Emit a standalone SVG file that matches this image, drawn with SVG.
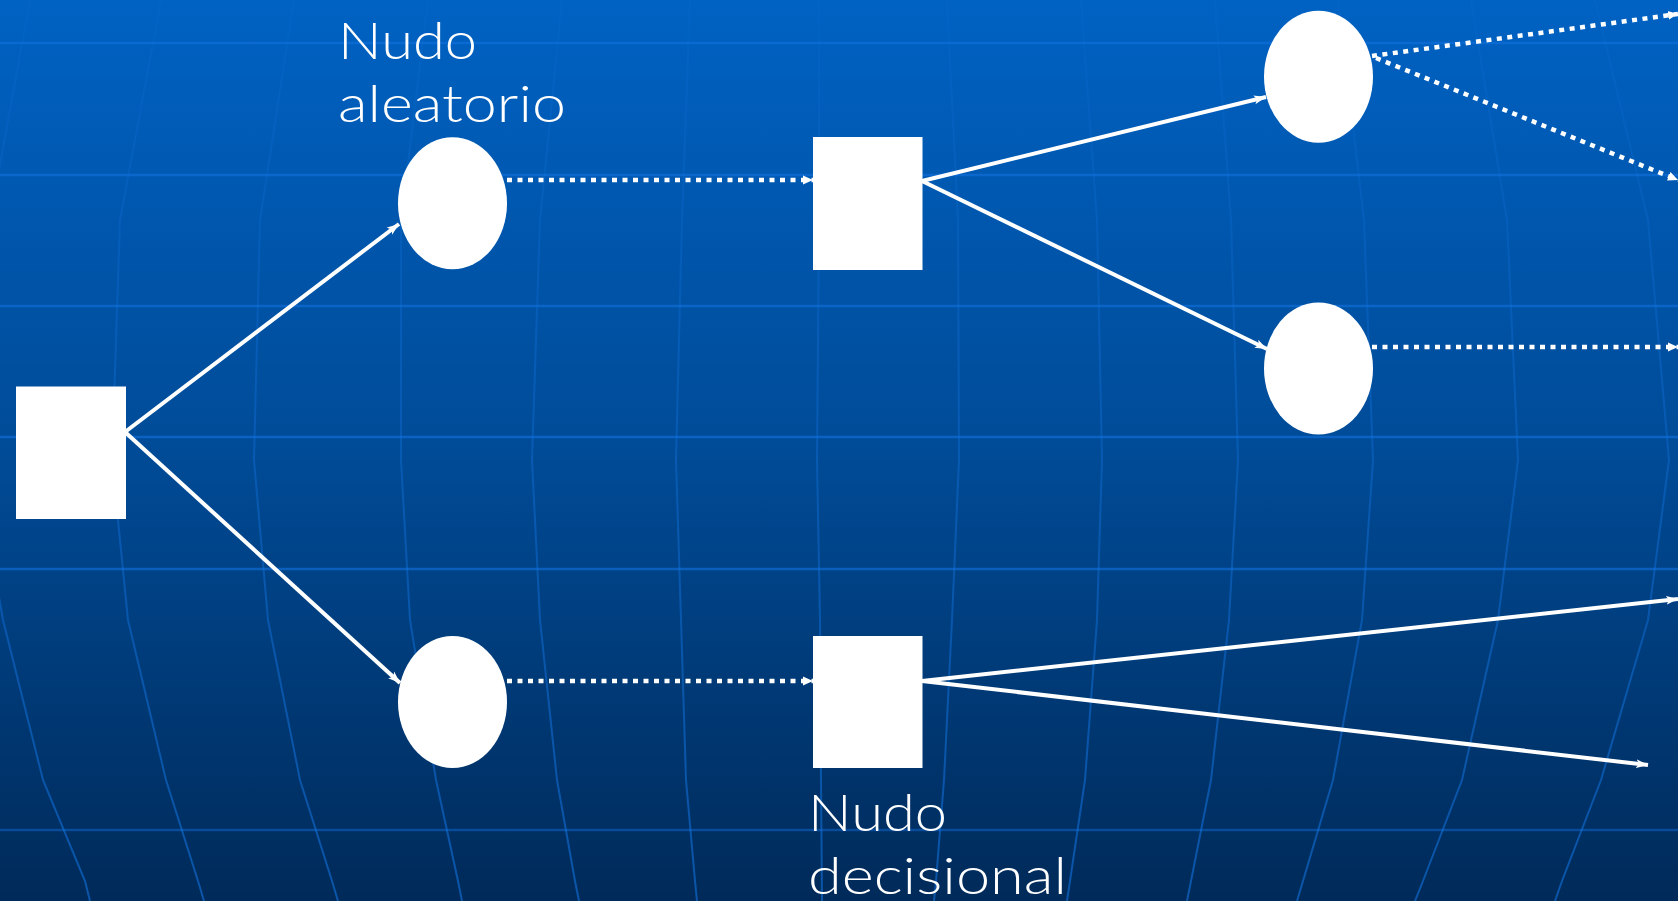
<svg xmlns="http://www.w3.org/2000/svg" width="1678" height="901" viewBox="0 0 1678 901">
<defs>
<linearGradient id="bg" x1="0" y1="0" x2="0" y2="1">
<stop offset="0" stop-color="#0062C3"/>
<stop offset="0.5" stop-color="#004B97"/>
<stop offset="1" stop-color="#002A59"/>
</linearGradient>
<linearGradient id="vg" gradientUnits="userSpaceOnUse" x1="0" y1="0" x2="0" y2="901">
<stop offset="0" stop-color="#1272DE" stop-opacity="0.12"/>
<stop offset="0.4" stop-color="#1272DE" stop-opacity="0.35"/>
<stop offset="1" stop-color="#1272DE" stop-opacity="0.6"/>
</linearGradient>
<marker id="ah" markerUnits="userSpaceOnUse" markerWidth="14" markerHeight="10" refX="12" refY="5" orient="auto">
<path d="M0,0.5 L12,5 L0,9.5 L3,5 z" fill="#fff"/>
</marker>
<marker id="ahd" markerUnits="userSpaceOnUse" markerWidth="12" markerHeight="10" refX="10" refY="5" orient="auto">
<path d="M0,0.5 L10,5 L0,9.5 z" fill="#fff"/>
</marker>
</defs>
<style>
.hl{stroke:#1272DE;stroke-width:2.5;opacity:0.6;fill:none}
.vl{stroke:url(#vg);stroke-width:2;fill:none}
.solid{stroke:#fff;stroke-width:4;fill:none;marker-end:url(#ah)}
.dot{stroke:#fff;stroke-width:4.5;fill:none;stroke-dasharray:5 5.5;marker-end:url(#ahd)}
.node{fill:#fff}
.lbl{font-family:Lato,"Open Sans","DejaVu Sans",sans-serif;font-weight:300;font-size:52px;fill:#fff}
</style>
<rect x="0" y="0" width="1678" height="901" fill="url(#bg)"/>
<g id="grid">
<line class="hl" x1="0" y1="43" x2="1678" y2="43"/>
<line class="hl" x1="0" y1="175" x2="1678" y2="175"/>
<line class="hl" x1="0" y1="306" x2="1678" y2="306"/>
<line class="hl" x1="0" y1="437" x2="1678" y2="437"/>
<line class="hl" x1="0" y1="569" x2="1678" y2="569"/>
<line class="hl" x1="0" y1="830" x2="1678" y2="830" style="opacity:0.45"/>
<polyline class="vl" points="30,0 -10,220 -25,460 3,620 43,780 85,881 90,901"/>
<polyline class="vl" points="161,0 120,220 112,460 128,620 166,780 198,881 204,901"/>
<polyline class="vl" points="294,0 260,220 254,460 268,620 300,780 332,881 338,901"/>
<polyline class="vl" points="428,0 401,220 401,460 410,620 436,780 458,881 462,901"/>
<polyline class="vl" points="562,0 540,220 532,460 540,620 557,780 575,881 579,901"/>
<polyline class="vl" points="690,0 682,220 676,460 681,620 686,780 695,881 697,901"/>
<polyline class="vl" points="819,0 819,220 817,460 820,620 821,780 822,901"/>
<polyline class="vl" points="947,0 958,220 959,460 952,620 944,780 936,881 934,901"/>
<polyline class="vl" points="1081,0 1097,220 1102,460 1097,620 1085,780 1070,881 1067,901"/>
<polyline class="vl" points="1215,0 1231,220 1238,460 1229,620 1211,780 1191,881 1187,901"/>
<polyline class="vl" points="1338,0 1364,220 1373,460 1362,620 1333,780 1303,881 1297,901"/>
<polyline class="vl" points="1471,0 1507,220 1518,460 1498,620 1462,780 1423,881 1415,901"/>
<polyline class="vl" points="1595,0 1648,220 1669,460 1648,620 1601,780 1562,881 1555,901"/>
</g>
<g id="connectors">
<line class="solid" x1="125" y1="432" x2="399" y2="224"/>
<line class="solid" x1="125" y1="432" x2="400" y2="683"/>
<line class="dot" x1="507" y1="180" x2="813" y2="180"/>
<line class="dot" x1="507" y1="681" x2="813" y2="681"/>
<line class="solid" x1="922" y1="181" x2="1266" y2="97"/>
<line class="solid" x1="922" y1="181" x2="1267" y2="349"/>
<line class="solid" x1="922" y1="681" x2="1678" y2="599"/>
<line class="solid" x1="922" y1="681" x2="1648" y2="765"/>
<line class="dot" x1="1372" y1="56" x2="1678" y2="14"/>
<line class="dot" x1="1376" y1="58" x2="1678" y2="180"/>
<line class="dot" x1="1372" y1="347" x2="1678" y2="347"/>
</g>
<g id="decision-root"><rect class="node" x="16" y="386.5" width="110" height="132.5"/></g>
<g id="chance-top"><ellipse class="node" cx="452.5" cy="203.3" rx="54.5" ry="66"/></g>
<g id="chance-bottom"><ellipse class="node" cx="452.5" cy="702" rx="54.5" ry="66"/></g>
<g id="decision-top"><rect class="node" x="813" y="137" width="109.5" height="133"/></g>
<g id="decision-bottom"><rect class="node" x="813" y="636" width="109.5" height="132"/></g>
<g id="chance-right-top"><ellipse class="node" cx="1318.5" cy="76.7" rx="54.5" ry="66"/></g>
<g id="chance-right-mid"><ellipse class="node" cx="1318.5" cy="368.5" rx="54.5" ry="66"/></g>
<g id="label-aleatorio">
<text class="lbl" x="338" y="59" textLength="139" lengthAdjust="spacingAndGlyphs">Nudo</text>
<text class="lbl" x="338" y="122" textLength="228" lengthAdjust="spacingAndGlyphs">aleatorio</text>
</g>
<g id="label-decisional">
<text class="lbl" x="808" y="831" textLength="139" lengthAdjust="spacingAndGlyphs">Nudo</text>
<text class="lbl" x="808" y="894" textLength="259" lengthAdjust="spacingAndGlyphs">decisional</text>
</g>
</svg>
